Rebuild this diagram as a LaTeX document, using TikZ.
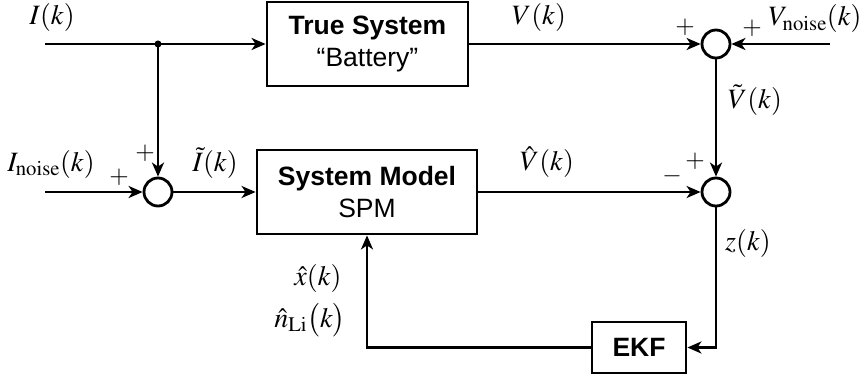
\documentclass[tikz,border=0pt]{standalone}
\usepackage{amsmath}
\usepackage{mathptmx}
\usepackage[no-math]{fontspec}
\setmainfont{Liberation Serif}
\setsansfont{Liberation Sans}
\usetikzlibrary{arrows.meta, positioning}

\begin{document}
\begin{tikzpicture}[x=1pt, y=-1pt,
    blk/.style={draw, line width=2.8pt, rectangle, align=center, inner sep=2pt,
      font=\sffamily\fontsize{26.5}{32}\selectfont},
    sumc/.style={draw, line width=2.8pt, circle, minimum size=28pt, inner sep=0pt},
    sig/.style={-{Stealth[length=14pt, width=12pt, inset=4pt]}, line width=2.8pt},
    lbl/.style={inner sep=0pt, font=\fontsize{28}{30}\selectfont},
    sgn/.style={inner sep=0pt, font=\fontsize{25}{27}\selectfont}
  ]
  \useasboundingbox (0,0) rectangle (861,377);

  % blocks
  \node[blk, minimum width=201pt, minimum height=84pt] (truesys) at (367.5,44) {\textbf{True System}\\“Battery”};
  \node[blk, minimum width=220pt, minimum height=84pt] (model) at (367,192) {\textbf{System Model}\\SPM};
  \node[blk, minimum width=94pt, minimum height=51pt] (ekf) at (639,347.5) {\textbf{EKF}};

  % summing junctions
  \node[sumc] (sumv) at (716,44) {};
  \node[sumc] (sumz) at (716,192) {};
  \node[sumc] (sumi) at (158,192) {};

  \coordinate (iin) at (45,44);
  \coordinate (inoise) at (45,192);
  \coordinate (vnoise) at (830,44);
  \coordinate (split) at (158,44);

  % signals
  \draw[sig] (iin) -- (truesys);
  \fill (split) circle (3.5pt);
  \draw[sig] (split) -- (sumi);
  \draw[sig] (inoise) -- (sumi);
  \draw[sig] (sumi) -- (model);
  \draw[sig] (truesys) -- (sumv);
  \draw[sig] (vnoise) -- (sumv);
  \draw[sig] (sumv) -- (sumz);
  \draw[sig] (model) -- (sumz);
  \draw[sig] (sumz) |- (ekf);
  \draw[sig] (ekf) -| (model);

  % labels
  \node[lbl] (lI) at (52,18) {$I(k)$};
  \node[lbl] (lInoise) at (51,164) {$I_{\mathrm{noise}}(k)$};
  \node[lbl] (lIt) at (215,163) {$\tilde{I}(k)$};
  \node[lbl] (lV) at (539,18) {$V(k)$};
  \node[lbl] (lVnoise) at (815,19) {$V_{\mathrm{noise}}(k)$};
  \node[lbl] (lVt) at (755,100) {$\tilde{V}(k)$};
  \node[lbl] (lVh) at (547,162) {$\hat{V}(k)$};
  \node[lbl] (lz) at (748,243) {$z(k)$};
  \node[lbl] (lx) at (318,278) {$\hat{x}(k)$};
  \node[lbl] (ln) at (310,320) {$\hat{n}_{\mathrm{Li}}\big(k\big)$};

  % signs
  \node[sgn] (pi1) at (145,153) {$+$};
  \node[sgn] (pi2) at (119,177) {$+$};
  \node[sgn] (pv1) at (685,27) {$+$};
  \node[sgn] (pv2) at (752,28) {$+$};
  \node[sgn] (pz1) at (695,161) {$+$};
  \node[sgn] (pz2) at (672,176) {$-$};
\end{tikzpicture}
\end{document}
